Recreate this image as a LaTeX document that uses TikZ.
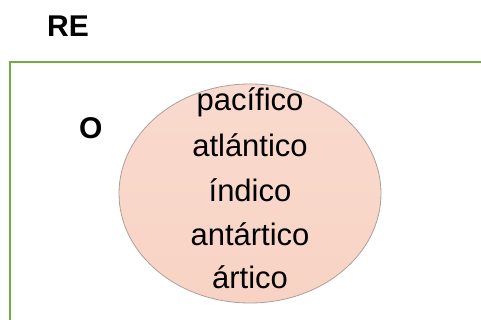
\documentclass[tikz,border=0pt]{standalone}
\usepackage{fontspec}
\setmainfont{Liberation Sans}
\definecolor{frameGreen}{HTML}{70AD47}
\definecolor{peach}{HTML}{F8D3C4}
\definecolor{peachTop}{HTML}{F9DACE}
\definecolor{rimGray}{HTML}{ADA09A}
\tikzset{
  word/.style={anchor=base, inner sep=0pt, font=\fontsize{31}{36}\selectfont},
  bigword/.style={anchor=base west, inner sep=0pt, font=\fontsize{30}{36}\selectfont\bfseries},
  frameline/.style={draw=frameGreen, line width=2.4pt},
}
\begin{document}
\begin{tikzpicture}[x=1pt,y=-1pt]
\useasboundingbox (0,0) rectangle (481,320);
\clip (0,0) rectangle (481,320);
\fill[white] (0,0) rectangle (481,320);
\coordinate (frameTR) at (490,62);
\coordinate (frameTL) at (10,62);
\coordinate (frameBL) at (10,330);
\draw[frameline] (frameTR) -- (frameTL) -- (frameBL);
\node[bigword] (re) at (47,37) {RE};
\node[bigword] (o) at (79,139) {O};
\path[top color=peachTop, bottom color=peach, draw=rimGray, line width=0.8pt]
  (250,193.5) ellipse [x radius=131, y radius=109.5];
\node[word] (pac) at (250,111) {pacífico};
\node[word] (atl) at (250,157) {atlántico};
\node[word] (ind) at (250,202) {índico};
\node[word] (ant) at (250,245) {antártico};
\node[word] (art) at (250,288) {ártico};
\end{tikzpicture}
\end{document}
